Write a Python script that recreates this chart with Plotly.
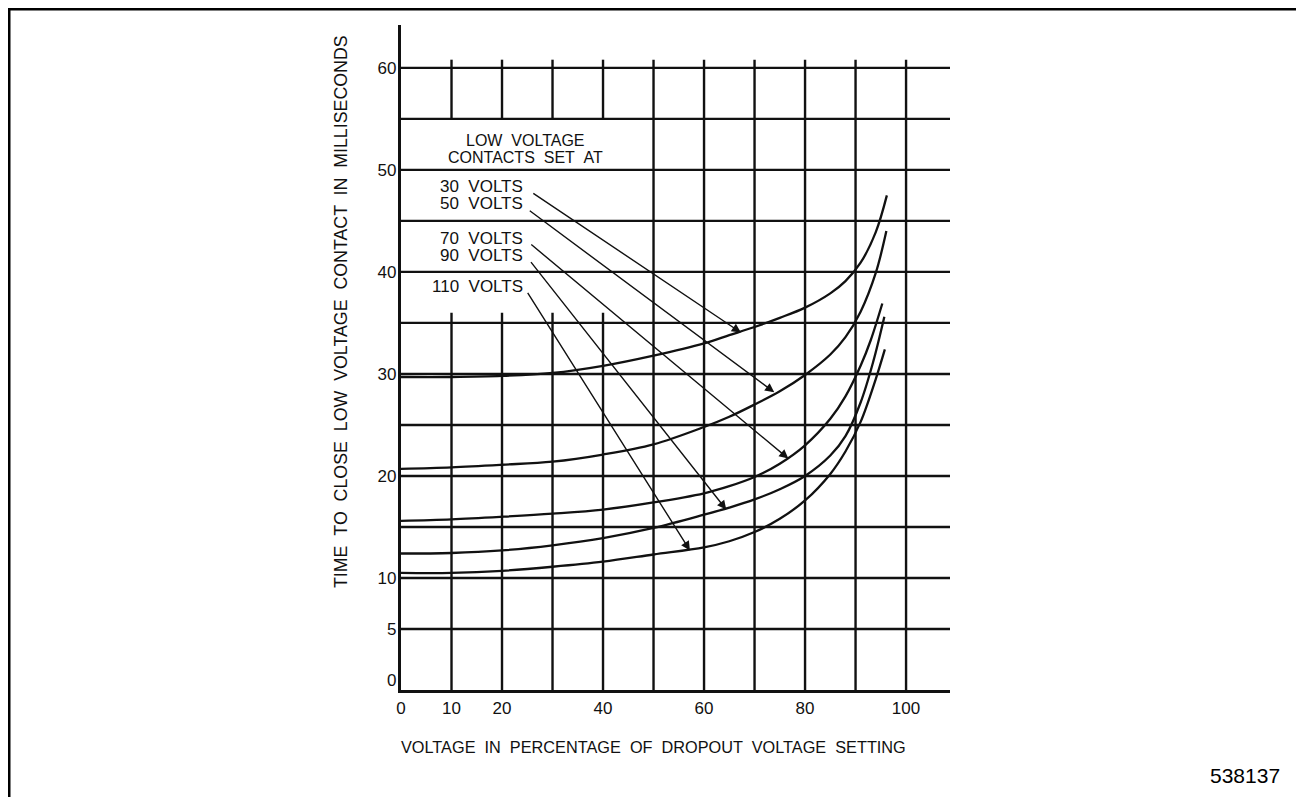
import plotly.graph_objects as go

# ---------------- data ----------------
x_ticks = [0, 10, 20, 40, 60, 80, 100]
y_ticks = [0, 5, 10, 20, 30, 40, 50, 60]
grid_x = [10, 20, 30, 40, 50, 60, 70, 80, 90, 100]
grid_y = [5, 10, 15, 20, 25, 30, 35, 40, 45, 50, 55, 60]
gap_cols = [10, 20, 30, 40]          # vertical lines interrupted behind the legend text
gap_span = [36, 55]
grid_top = 60.8

x_30 = [0, 10, 20, 30, 40, 50, 60, 65, 70, 75, 80, 85, 88, 91, 94, 96.2]
t_30 = [29.7, 29.7, 29.8, 30.1, 30.8, 31.8, 33.0, 33.8, 34.6, 35.5, 36.5, 37.9, 39.1, 40.9, 43.9, 47.5]

x_50 = [0, 10, 20, 30, 40, 50, 60, 65, 70, 75, 80, 85, 88, 91, 94, 96.1]
t_50 = [20.7, 20.85, 21.1, 21.4, 22.1, 23.1, 24.8, 25.8, 27.0, 28.3, 29.9, 31.9, 33.6, 36.1, 39.9, 44.0]

x_70 = [0, 10, 20, 30, 40, 50, 60, 65, 70, 75, 80, 85, 88, 91, 93, 95.3]
t_70 = [15.6, 15.75, 16.0, 16.3, 16.7, 17.4, 18.3, 19.0, 19.9, 21.2, 23.0, 25.6, 27.8, 30.8, 33.3, 36.9]

x_90 = [0, 10, 20, 30, 40, 50, 60, 65, 70, 75, 80, 85, 88, 91, 93.5, 95.7]
t_90 = [12.4, 12.45, 12.7, 13.2, 13.9, 14.9, 16.2, 16.9, 17.7, 18.7, 20.0, 22.0, 23.9, 27.2, 31.2, 35.6]

x_110 = [0, 10, 20, 30, 40, 50, 60, 65, 70, 75, 80, 85, 88, 91, 94, 95.8]
t_110 = [10.5, 10.5, 10.7, 11.1, 11.6, 12.3, 13.0, 13.6, 14.5, 15.8, 17.6, 20.2, 22.4, 25.3, 29.5, 32.4]

series_labels = ["30 VOLTS", "50 VOLTS", "70 VOLTS", "90 VOLTS", "110 VOLTS"]
label_y = [48.4, 46.7, 43.3, 41.6, 38.6]
arrow_tail_x = [25.9, 25.2, 25.5, 25.5, 24.9]
arrow_tail_y = [47.8, 46.1, 42.8, 41.1, 38.1]
arrow_head_x = [67.3, 73.9, 76.7, 64.4, 57.2]
arrow_head_y = [34.05, 28.2, 21.7, 16.7, 12.7]

legend_title = ["LOW VOLTAGE", "CONTACTS SET AT"]
legend_title_y = [52.9, 51.25]

x_title = "VOLTAGE IN PERCENTAGE OF DROPOUT VOLTAGE SETTING"
y_title = "TIME TO CLOSE LOW VOLTAGE CONTACT IN MILLISECONDS"
fig_id = "538137"

# ---------------- layout constants ----------------
OFF = 8                                  # page body margin of the browser
W, H = 1296, 789
PL, PR, PT, PB = 401, 950, 25, 690      # plot area, in screenshot pixels
X_RANGE = [0, 108.7]
Y_RANGE = [-0.98, 64.2]
INK = "#111111"
FONT = "Liberation Sans"


def wide(s):
    # widen word spacing like the original lettering
    return s.replace(" ", " \u00a0")


def px_x(p):
    return (p - PL) / (PR - PL)


def px_y(p):
    return (PB - p) / (PB - PT)


fig = go.Figure()

for xs, ts in [(x_30, t_30), (x_50, t_50), (x_70, t_70), (x_90, t_90), (x_110, t_110)]:
    fig.add_trace(go.Scatter(x=xs, y=ts, mode="lines",
                             line=dict(color=INK, width=2.3, shape="spline", smoothing=1.0),
                             hoverinfo="skip", showlegend=False))

shapes = []
# horizontal grid
for gy in grid_y:
    shapes.append(dict(type="line", xref="x", yref="y", x0=X_RANGE[0], x1=X_RANGE[1], y0=gy, y1=gy,
                       line=dict(color=INK, width=2.4), layer="below"))
# vertical grid
for gx in grid_x:
    if gx in gap_cols:
        segs = [(Y_RANGE[0], gap_span[0]), (gap_span[1], grid_top)]
    else:
        segs = [(Y_RANGE[0], grid_top)]
    for a, b in segs:
        shapes.append(dict(type="line", xref="x", yref="y", x0=gx, x1=gx, y0=a, y1=b,
                           line=dict(color=INK, width=2.4), layer="below"))
# outer frame of the page
FL, FR, FT = 9, 1300, 9
shapes.append(dict(type="line", xref="paper", yref="paper", x0=px_x(FL), x1=px_x(FL), y0=px_y(FT), y1=px_y(H + OFF + 20),
                   line=dict(color="#000000", width=3)))
shapes.append(dict(type="line", xref="paper", yref="paper", x0=px_x(FR), x1=px_x(FR), y0=px_y(FT), y1=px_y(H + OFF + 20),
                   line=dict(color="#000000", width=3)))
shapes.append(dict(type="line", xref="paper", yref="paper", x0=px_x(FL - 1.5), x1=px_x(FR + 1.5), y0=px_y(FT), y1=px_y(FT),
                   line=dict(color="#000000", width=3)))

annotations = []
for txt, yy in zip(legend_title, legend_title_y):
    annotations.append(dict(x=24.6, y=yy, xref="x", yref="y", text=wide(txt), showarrow=False,
                            xanchor="center", yanchor="middle", font=dict(family=FONT, size=16, color=INK)))
for txt, yy in zip(series_labels, label_y):
    annotations.append(dict(x=24.55, y=yy, xref="x", yref="y", text=wide(txt), showarrow=False,
                            xanchor="right", yanchor="middle", font=dict(family=FONT, size=17, color=INK)))
for tx, ty, hx, hy in zip(arrow_tail_x, arrow_tail_y, arrow_head_x, arrow_head_y):
    annotations.append(dict(x=hx, y=hy, xref="x", yref="y", ax=tx, ay=ty, axref="x", ayref="y",
                            text="", showarrow=True, arrowhead=2, arrowsize=1.3, arrowwidth=1.4,
                            arrowcolor=INK, standoff=0, startstandoff=0))
annotations.append(dict(x=px_x(653), y=px_y(747), xref="paper", yref="paper", text=wide(x_title),
                        showarrow=False, xanchor="center", yanchor="middle",
                        font=dict(family=FONT, size=16.3, color=INK)))
annotations.append(dict(x=px_x(341), y=px_y(312), xref="paper", yref="paper", text=wide(y_title),
                        showarrow=False, xanchor="center", yanchor="middle", textangle=-90,
                        font=dict(family=FONT, size=17.8, color=INK)))
annotations.append(dict(x=px_x(1245), y=px_y(775), xref="paper", yref="paper", text=fig_id,
                        showarrow=False, xanchor="center", yanchor="middle",
                        font=dict(family=FONT, size=21, color="#000000")))

fig.update_layout(
    width=W, height=H,
    margin=dict(l=PL - OFF, r=W - (PR - OFF), t=PT - OFF, b=H - (PB - OFF), pad=0),
    paper_bgcolor="white", plot_bgcolor="white",
    showlegend=False,
    font=dict(family=FONT, size=17, color=INK),
    shapes=shapes, annotations=annotations,
    xaxis=dict(range=X_RANGE, tickvals=x_ticks, ticktext=[str(v) for v in x_ticks],
               showgrid=False, zeroline=False, showline=True, linewidth=3.2, linecolor=INK,
               ticks="", ticklabelstandoff=0, tickfont=dict(family=FONT, size=17, color=INK),
               fixedrange=True),
    yaxis=dict(range=Y_RANGE, tickvals=y_ticks, ticktext=[str(v) for v in y_ticks],
               showgrid=False, zeroline=False, showline=True, linewidth=3.2, linecolor=INK,
               ticks="", ticklabelstandoff=-2, tickfont=dict(family=FONT, size=17, color=INK),
               fixedrange=True),
)

fig.write_html("out.html")
